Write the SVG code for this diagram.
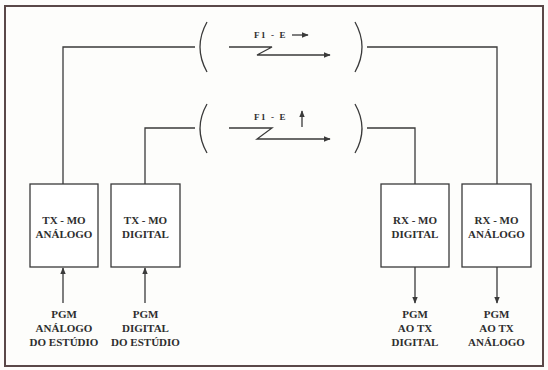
<svg xmlns="http://www.w3.org/2000/svg" width="548" height="370" viewBox="0 0 548 370">
<style>
.ln{fill:none;stroke:#3a3a3a;stroke-width:1.3}
.box{fill:#fff;stroke:#3a3a3a;stroke-width:1.3}
.t{font-family:"Liberation Serif","Times New Roman",serif;font-weight:bold;font-size:11px;fill:#2e2e2e;text-anchor:middle}
.s{font-family:"Liberation Serif","Times New Roman",serif;font-weight:bold;font-size:9px;fill:#2e2e2e;letter-spacing:1.6px}
</style>
<defs>
<marker id="ah" viewBox="0 0 10 10" refX="9" refY="5" markerWidth="7" markerHeight="7" markerUnits="userSpaceOnUse" orient="auto">
<path d="M0,1 L10,5 L0,9 Z" fill="#3a3a3a"/>
</marker>
</defs>
<rect x="0" y="0" width="548" height="370" fill="#fdfdfb"/>
<rect x="5" y="6" width="538" height="360" fill="none" stroke="#5a4848" stroke-width="2"/>
<g id="connectors">
<path class="ln" d="M63,184 V47 H195"/>
<path class="ln" d="M145,184 V128 H195"/>
<path class="ln" d="M367,47 H497 V184"/>
<path class="ln" d="M367,128 H415 V184"/>
<path class="ln" d="M63,303 V268" marker-end="url(#ah)"/>
<path class="ln" d="M145,303 V268" marker-end="url(#ah)"/>
<path class="ln" d="M415,267 V303" marker-end="url(#ah)"/>
<path class="ln" d="M497,267 V303" marker-end="url(#ah)"/>
</g>
<g id="link-top">
<path class="ln" d="M207,22 Q193,47 207,72"/>
<path class="ln" d="M355,22 Q369,47 355,72"/>
<path class="ln" d="M229,47 H272 L257,55 H330" marker-end="url(#ah)"/>
<text class="s" x="254" y="38">F1 - E</text>
<path class="ln" d="M292,35 H308" marker-end="url(#ah)"/>
</g>
<g id="link-bottom">
<path class="ln" d="M207,104 Q193,128.5 207,153"/>
<path class="ln" d="M355,104 Q369,128.5 355,153"/>
<path class="ln" d="M229,128 H272 L257,139 H330" marker-end="url(#ah)"/>
<text class="s" x="254" y="120">F1 - E</text>
<path class="ln" d="M302,127 V111" marker-end="url(#ah)"/>
</g>
<g id="tx-analogo">
<rect class="box" x="30" y="184" width="68" height="83"/>
<text class="t" x="64" y="224">TX - MO</text>
<text class="t" x="64" y="238">ANÁLOGO</text>
</g>
<g id="tx-digital">
<rect class="box" x="111" y="184" width="69" height="83"/>
<text class="t" x="145.5" y="224">TX - MO</text>
<text class="t" x="145.5" y="238">DIGITAL</text>
</g>
<g id="rx-digital">
<rect class="box" x="381" y="184" width="68" height="83"/>
<text class="t" x="415" y="224">RX - MO</text>
<text class="t" x="415" y="238">DIGITAL</text>
</g>
<g id="rx-analogo">
<rect class="box" x="462" y="184" width="69" height="83"/>
<text class="t" x="496.5" y="224">RX - MO</text>
<text class="t" x="496.5" y="238">ANÁLOGO</text>
</g>
<g id="pgm-analogo">
<text class="t" x="64" y="318">PGM</text>
<text class="t" x="64" y="332">ANÁLOGO</text>
<text class="t" x="64" y="346">DO ESTÚDIO</text>
</g>
<g id="pgm-digital">
<text class="t" x="145.5" y="318">PGM</text>
<text class="t" x="145.5" y="332">DIGITAL</text>
<text class="t" x="145.5" y="346">DO ESTÚDIO</text>
</g>
<g id="pgm-tx-digital">
<text class="t" x="415" y="318">PGM</text>
<text class="t" x="415" y="332">AO TX</text>
<text class="t" x="415" y="346">DIGITAL</text>
</g>
<g id="pgm-tx-analogo">
<text class="t" x="496.5" y="318">PGM</text>
<text class="t" x="496.5" y="332">AO TX</text>
<text class="t" x="496.5" y="346">ANÁLOGO</text>
</g>
</svg>
